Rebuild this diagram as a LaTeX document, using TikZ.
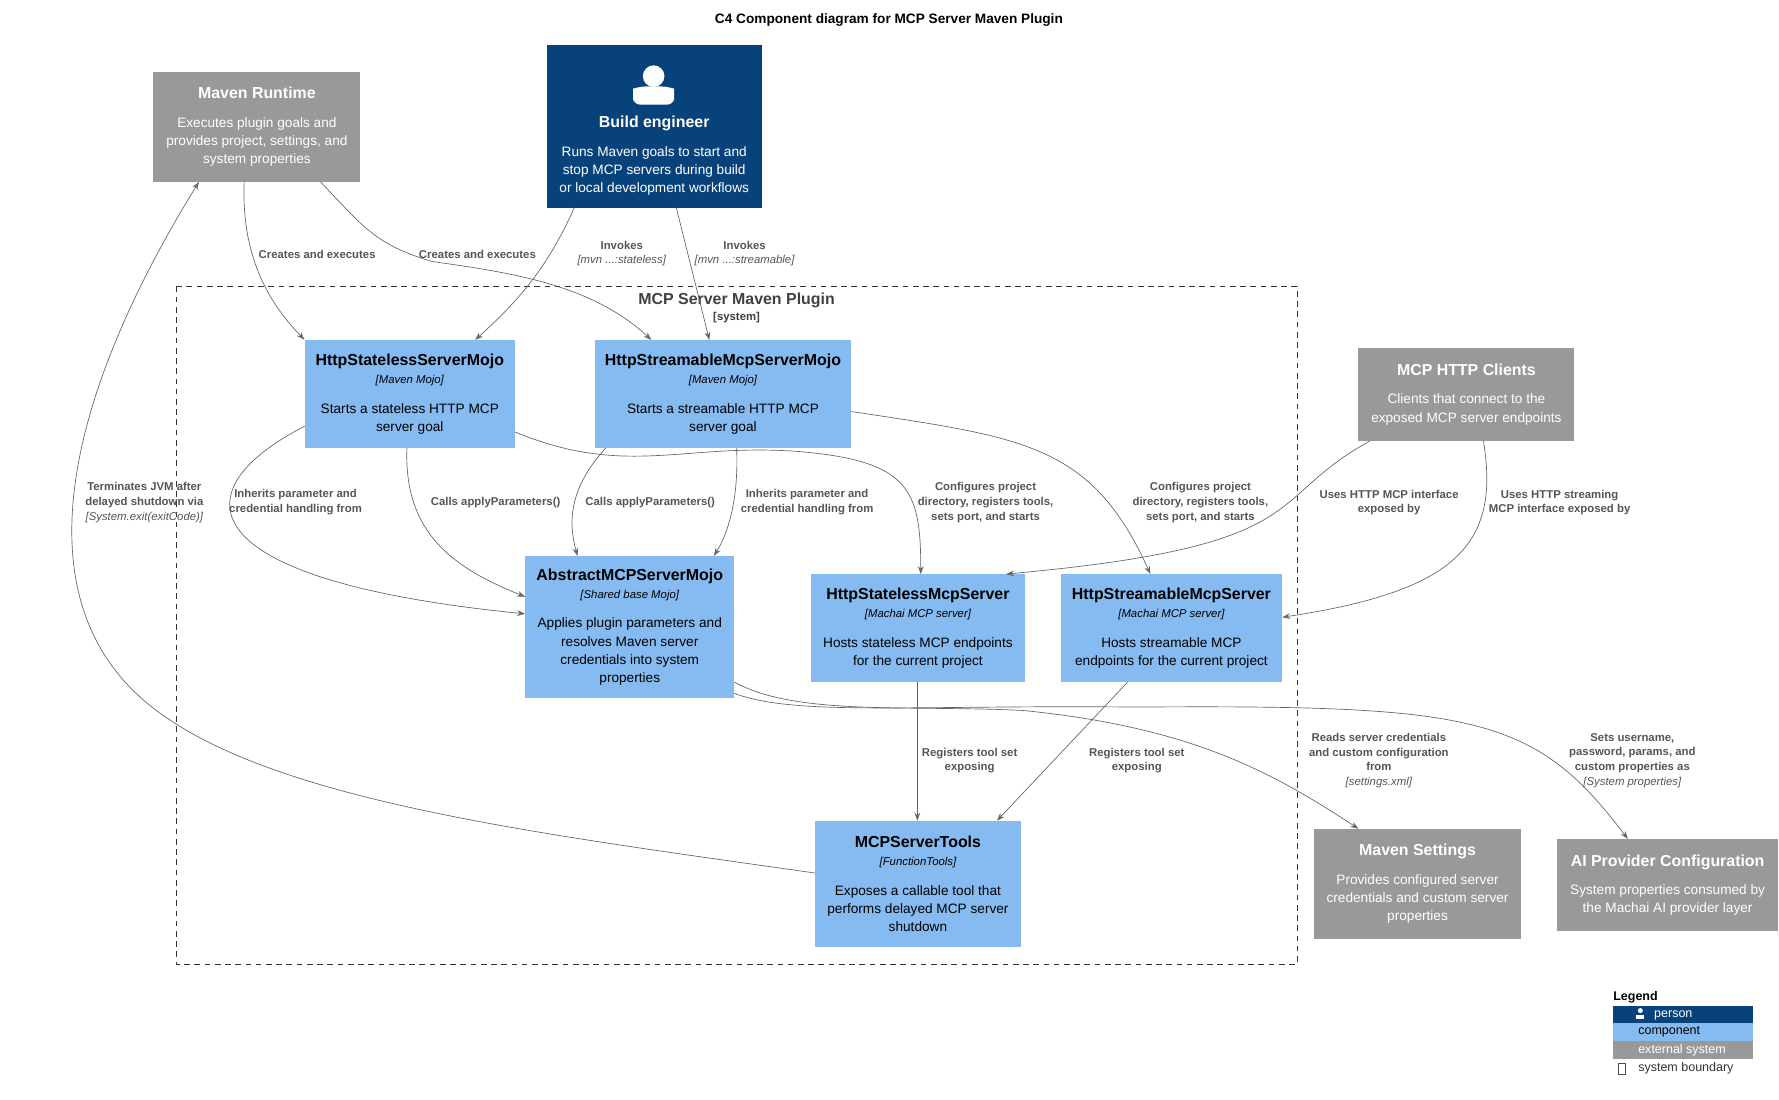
\documentclass[tikz,border=0pt]{standalone}
\usepackage{fontspec}
\setmainfont{Liberation Sans}
\usetikzlibrary{arrows.meta}
\definecolor{comp}{HTML}{85BBF0}
\definecolor{ext}{HTML}{999999}
\definecolor{pers}{HTML}{08427B}
\definecolor{edge}{HTML}{666666}
\definecolor{lbl}{HTML}{555555}
\newcommand{\ttl}[1]{{\fontsize{14}{18}\selectfont\bfseries #1}}
\newcommand{\tch}[1]{{\fontsize{10}{13}\selectfont\itshape #1}}
\newcommand{\tchl}[1]{{\fontsize{10}{13}\selectfont\itshape\mdseries #1}}
\begin{document}
\begin{tikzpicture}[x=1pt,y=-1pt,
  box/.style={rectangle,draw=none,align=center,inner sep=0pt,font=\fontsize{12}{16}\selectfont},
  cmp/.style={box,fill=comp,text=black},
  ex/.style={box,fill=ext,text=white},
  lb/.style={align=center,text=lbl,font=\fontsize{10}{13}\selectfont\bfseries,inner sep=1pt},
  ar/.style={draw=edge,line width=0.6pt,-{Stealth[length=7pt,width=5pt]}}]
\useasboundingbox (0,0) rectangle (1565,967);
\node[font=\fontsize{12}{14}\selectfont\bfseries] (title) at (782,18) {C4 Component diagram for MCP Server Maven Plugin};
% boundary
\draw[dashed,draw=black!80,line width=0.6pt,dash pattern=on 5pt off 4pt] (155,252) rectangle (1141,848);
\node[text=black!75,font=\fontsize{14}{17}\selectfont\bfseries] (bnd) at (648,264) {MCP Server Maven Plugin};
\node[text=black!75,font=\fontsize{10}{12}\selectfont\bfseries] (bndt) at (648,279) {[system]};
% nodes
\node[ex,minimum width=182pt,minimum height=97pt] (rt) at (226,111.5) {\ttl{Maven Runtime}\\[9pt]Executes plugin goals and\\provides project, settings, and\\system properties};
\node[box,fill=pers,text=white,minimum width=189pt,minimum height=143pt] (be) at (575.5,111.5) {};
\fill[white] (575,67) circle (9.5);
\fill[white,rounded corners=6pt] (557,92) -- (557,84) .. controls (557,78) and (563,76) .. (575,76) .. controls (587,76) and (593,78) .. (593,84) -- (593,92) -- cycle;
\node[align=center,text=white,font=\fontsize{12}{16}\selectfont] (bet) at (575.5,137) {\ttl{Build engineer}\\[9pt]Runs Maven goals to start and\\stop MCP servers during build\\or local development workflows};
\node[cmp,minimum width=185pt,minimum height=95pt] (slm) at (360.5,346.5) {\ttl{HttpStatelessServerMojo}\\\tch{[Maven Mojo]}\\[10pt]Starts a stateless HTTP MCP\\server goal};
\node[cmp,minimum width=226pt,minimum height=95pt] (stm) at (636,346.5) {\ttl{HttpStreamableMcpServerMojo}\\\tch{[Maven Mojo]}\\[10pt]Starts a streamable HTTP MCP\\server goal};
\node[ex,minimum width=190pt,minimum height=82pt] (cl) at (1290,347) {\ttl{MCP HTTP Clients}\\[9pt]Clients that connect to the\\exposed MCP server endpoints};
\node[cmp,minimum width=184pt,minimum height=125pt] (ab) at (554,551.5) {\ttl{AbstractMCPServerMojo}\\\tch{[Shared base Mojo]}\\[10pt]Applies plugin parameters and\\resolves Maven server\\credentials into system\\properties};
\node[cmp,minimum width=189pt,minimum height=95pt] (sls) at (807.5,552.5) {\ttl{HttpStatelessMcpServer}\\\tch{[Machai MCP server]}\\[10pt]Hosts stateless MCP endpoints\\for the current project};
\node[cmp,minimum width=195pt,minimum height=95pt] (sts) at (1030.5,552.5) {\ttl{HttpStreamableMcpServer}\\\tch{[Machai MCP server]}\\[10pt]Hosts streamable MCP\\endpoints for the current project};
\node[cmp,minimum width=181pt,minimum height=111pt] (tl) at (807.5,777.5) {\ttl{MCPServerTools}\\\tch{[FunctionTools]}\\[10pt]Exposes a callable tool that\\performs delayed MCP server\\shutdown};
\node[ex,minimum width=182pt,minimum height=97pt] (ms) at (1247,777.5) {\ttl{Maven Settings}\\[9pt]Provides configured server\\credentials and custom server\\properties};
\node[ex,minimum width=194pt,minimum height=81pt] (ai) at (1467,778.5) {\ttl{AI Provider Configuration}\\[9pt]System properties consumed by\\the Machai AI provider layer};
% edges
\draw[ar] (rt.south west)++(80,0) .. controls (212,230) and (240,270) .. (slm.north west);
\draw[ar] (282,160) .. controls (320,200) and (330,215) .. (380,230) .. controls (450,240) and (520,250) .. (573,299);
\draw[ar] (505,183) .. controls (480,240) and (450,270) .. (418,299);
\draw[ar] (595,183) -- (624,299);
\draw[ar] (268,375) .. controls (160,430) and (160,510) .. (462,540);
\draw[ar] (358,394) .. controls (355,470) and (400,500) .. (462,525);
\draw[ar] (533,394) .. controls (500,430) and (500,460) .. (508,489);
\draw[ar] (648,394) .. controls (650,440) and (640,470) .. (628,489);
\draw[ar] (453,380) .. controls (550,420) and (600,390) .. (700,397) .. controls (800,405) and (810,430) .. (810,505);
\draw[ar] (749,362) .. controls (900,385) and (960,390) .. (1012,505);
\draw[ar] (1205,388) .. controls (1110,440) and (1160,480) .. (885,505);
\draw[ar] (1305,388) .. controls (1320,480) and (1280,520) .. (1128,543);
\draw[ar] (807,600) -- (807,722);
\draw[ar] (992,600) -- (877,722);
\draw[ar] (646,600) .. controls (700,630) and (800,620) .. (900,625) .. controls (1050,640) and (1120,680) .. (1195,729);
\draw[ar] (646,610) .. controls (700,630) and (800,620) .. (1000,622) .. controls (1300,620) and (1350,630) .. (1432,738);
\draw[ar] (717,768) .. controls (450,730) and (200,700) .. (110,600) .. controls (20,500) and (70,330) .. (175,160);
% labels
\node[lb] (l1) at (279,224) {Creates and executes};
\node[lb] (l2) at (420,224) {Creates and executes};
\node[lb] (l3) at (547,223) {Invokes\\\tchl{[mvn ...:stateless]}};
\node[lb] (l4) at (655,223) {Invokes\\\tchl{[mvn ...:streamable]}};
\node[lb] (l5) at (260,442) {Inherits parameter and\\credential handling from};
\node[lb] (l6) at (436,442) {Calls applyParameters()};
\node[lb] (l7) at (572,442) {Calls applyParameters()};
\node[lb] (l8) at (710,442) {Inherits parameter and\\credential handling from};
\node[lb] (l9) at (867,442) {Configures project\\directory, registers tools,\\sets port, and starts};
\node[lb] (l10) at (1056,442) {Configures project\\directory, registers tools,\\sets port, and starts};
\node[lb] (l11) at (1222,442) {Uses HTTP MCP interface\\exposed by};
\node[lb] (l12) at (1372,442) {Uses HTTP streaming\\MCP interface exposed by};
\node[lb] (l13) at (853,669) {Registers tool set\\exposing};
\node[lb] (l14) at (1000,669) {Registers tool set\\exposing};
\node[lb] (l15) at (1213,669) {Reads server credentials\\and custom configuration\\from\\\tchl{[settings.xml]}};
\node[lb] (l16) at (1436,669) {Sets username,\\password, params, and\\custom properties as\\\tchl{[System properties]}};
\node[lb] (l17) at (127,442) {Terminates JVM after\\delayed shutdown via\\\tchl{[System.exit(exitCode)]}};
% legend
\node[anchor=west,inner sep=0pt,font=\fontsize{11}{13}\selectfont\bfseries] (lg) at (1419,877) {Legend};
\fill[pers] (1419,885) rectangle (1542,900);
\fill[comp] (1419,900) rectangle (1542,916);
\fill[ext] (1419,916) rectangle (1542,932);
\fill[white] (1443,889) circle (2.2);
\fill[white] (1439.5,896.5) rectangle (1446.5,893) ;
\node[anchor=west,inner sep=0pt,text=white,font=\fontsize{11}{13}\selectfont] (lp) at (1455,893) {person};
\node[anchor=west,inner sep=0pt,font=\fontsize{11}{13}\selectfont] (lc) at (1441,908) {component};
\node[anchor=west,inner sep=0pt,text=white,font=\fontsize{11}{13}\selectfont] (le) at (1441,924) {external system};
\draw[black!70,line width=0.5pt] (1424,935) rectangle (1430,945);
\node[anchor=west,inner sep=0pt,text=black!80,font=\fontsize{11}{13}\selectfont] (lsb) at (1441,940) {system boundary};
\end{tikzpicture}
\end{document}
